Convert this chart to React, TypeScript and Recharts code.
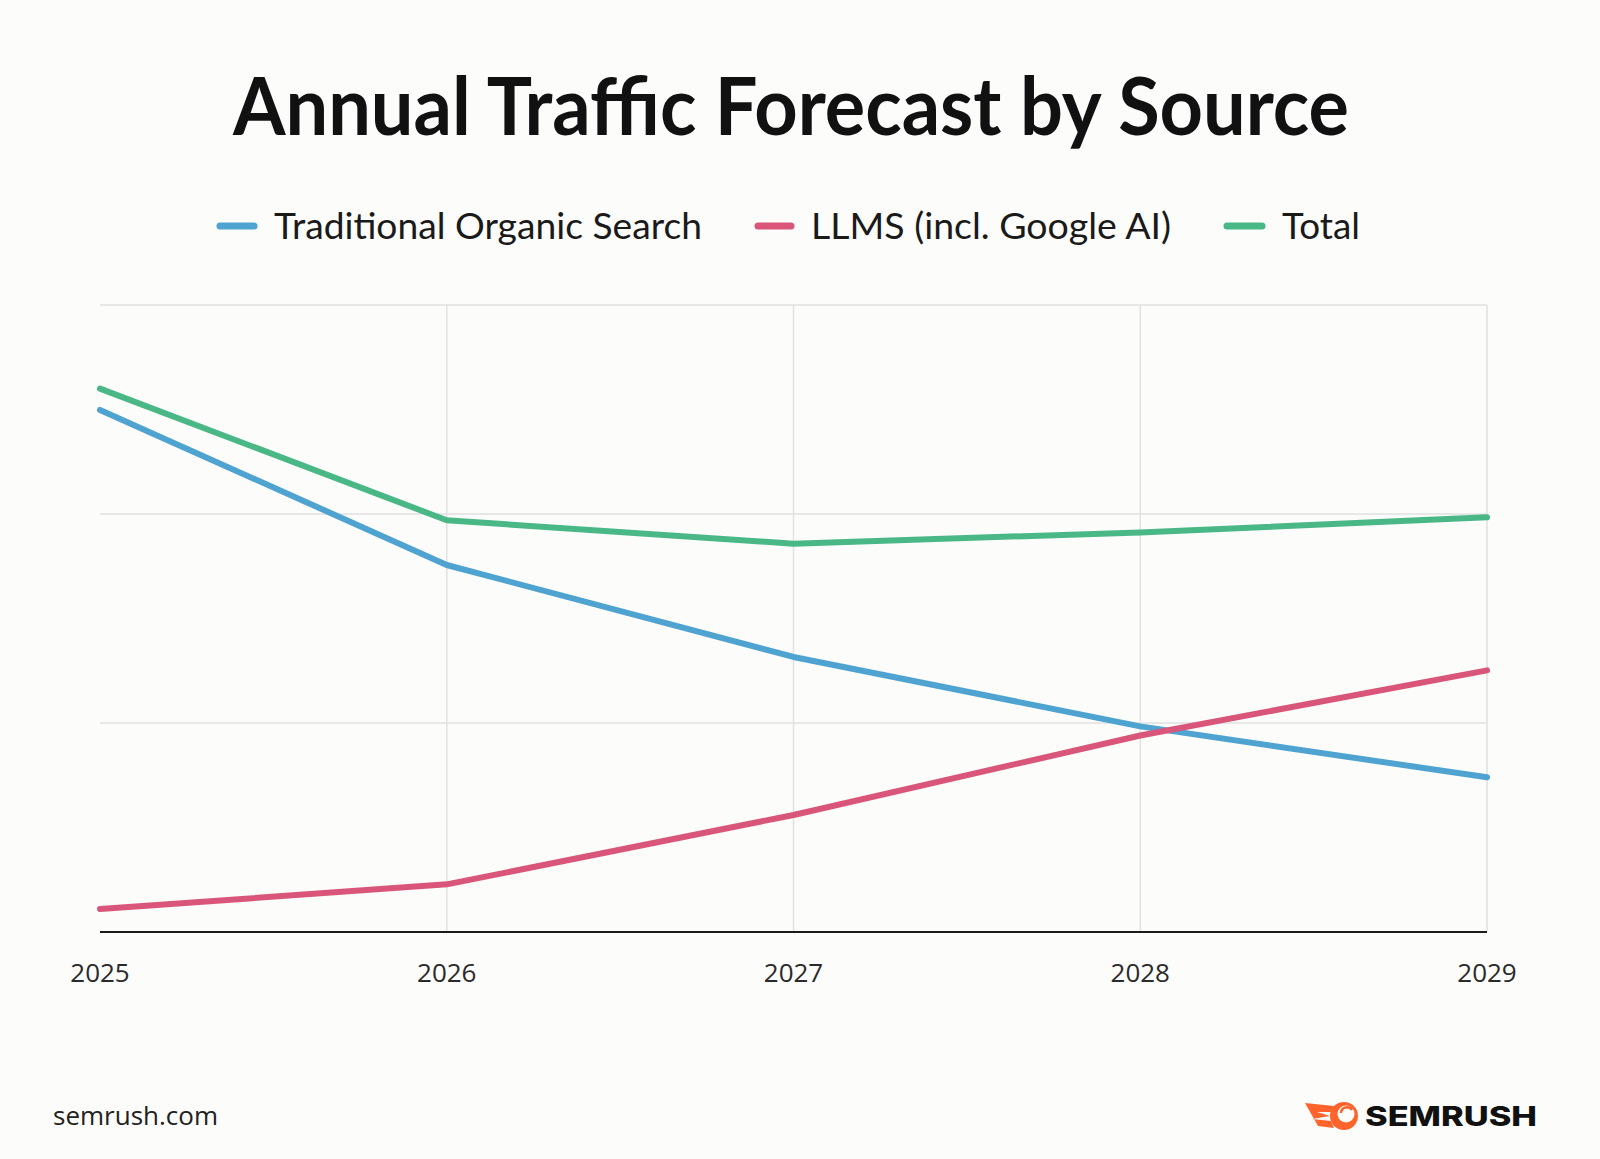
import React from 'react';
import { LineChart, Line, XAxis, YAxis, CartesianGrid, ReferenceLine } from 'recharts';

const years = ['2025', '2026', '2027', '2028', '2029'];
const traditionalOrganic = [124.9, 87.8, 65.8, 49.2, 37.0];
const llms = [5.5, 11.4, 28.0, 47.0, 62.6];
const total = [130.0, 98.5, 92.9, 95.6, 99.2];
const yTicks = [0, 50, 100, 150];

const seriesNames = ['Traditional Organic Search', 'LLMS (incl. Google AI)', 'Total'];
const colors = { trad: '#4ea3d1', llms: '#d9567a', total: '#4ab787' };

const data = years.map((y, i) => ({
  year: y,
  trad: traditionalOrganic[i],
  llms: llms[i],
  total: total[i],
}));

export default function App() {
  return (
    <div
      style={{
        position: 'absolute',
        left: 0,
        top: 0,
        width: 1600,
        height: 1159,
        background: '#fcfcfa',
        overflow: 'hidden',
      }}
    >
      <svg width={1600} height={1159} style={{ position: 'absolute', left: 0, top: 0 }}>
        <text
          x={791}
          y={135}
          textAnchor="middle"
          fontFamily="Lato"
          fontWeight={700}
          fontSize={80}
          fill="#111"
          textLength={1116}
          lengthAdjust="spacingAndGlyphs"
        >
          Annual Traffic Forecast by Source
        </text>
        {/* legend */}
        <line x1={220} y1={226} x2={254} y2={226} stroke={colors.trad} strokeWidth={7} strokeLinecap="round" />
        <text x={274} y={239} fontFamily="Lato" fontSize={37} fill="#1a1a1a" textLength={428} lengthAdjust="spacingAndGlyphs">{seriesNames[0]}</text>
        <line x1={758} y1={226} x2={791} y2={226} stroke={colors.llms} strokeWidth={7} strokeLinecap="round" />
        <text x={811} y={239} fontFamily="Lato" fontSize={37} fill="#1a1a1a" textLength={360} lengthAdjust="spacingAndGlyphs">{seriesNames[1]}</text>
        <line x1={1227} y1={226} x2={1262} y2={226} stroke={colors.total} strokeWidth={7} strokeLinecap="round" />
        <text x={1282} y={239} fontFamily="Lato" fontSize={37} fill="#1a1a1a" textLength={78} lengthAdjust="spacingAndGlyphs">{seriesNames[2]}</text>
        {/* footer */}
        <text x={53} y={1125} fontFamily="Open Sans" fontSize={26} fill="#222">semrush.com</text>
        <g>
          <path
            d="M1305 1103 L1334 1106 L1331 1112 L1317 1112 L1330 1116 L1312 1119 L1331 1121 L1334 1128 L1318 1126 Z"
            fill="#ff642d"
          />
          <circle cx={1344} cy={1116} r={14} fill="#ff642d" />
          <circle cx={1346} cy={1114} r={8.5} fill="#fcfcfa" />
          <path d="M1341 1113 A6 6 0 0 1 1352 1110" stroke="#ff642d" strokeWidth={2.5} fill="none" />
        </g>
        <text
          x={1365}
          y={1126}
          fontFamily="Inter"
          fontWeight={800}
          fontSize={27}
          fill="#111"
          textLength={172}
          lengthAdjust="spacingAndGlyphs"
        >
          SEMRUSH
        </text>
      </svg>
      <div style={{ position: 'absolute', left: 0, top: 0 }}>
        <LineChart
          width={1600}
          height={1159}
          data={data}
          margin={{ top: 305, right: 113, bottom: 167, left: 100 }}
        >
          <CartesianGrid stroke="#e1e1e1" strokeWidth={1.5} horizontal vertical={false} />
          {years.slice(1).map((y) => (
            <ReferenceLine key={y} x={y} stroke="#e1e1e1" strokeWidth={1.5} />
          ))}
          <XAxis
            dataKey="year"
            height={60}
            tickLine={false}
            axisLine={{ stroke: '#1c1c1c', strokeWidth: 2 }}
            tick={{ fontSize: 26, fill: '#2a2a2a', fontFamily: 'Open Sans' }}
            tickMargin={26}
            interval={0}
          />
          <YAxis hide domain={[0, 150]} ticks={yTicks} width={0} />
          <Line
            type="linear"
            dataKey="trad"
            name={seriesNames[0]}
            stroke={colors.trad}
            strokeWidth={6}
            strokeLinecap="round"
            strokeLinejoin="round"
            dot={false}
            activeDot={false}
            isAnimationActive={false}
          />
          <Line
            type="linear"
            dataKey="total"
            name={seriesNames[2]}
            stroke={colors.total}
            strokeWidth={6}
            strokeLinecap="round"
            strokeLinejoin="round"
            dot={false}
            activeDot={false}
            isAnimationActive={false}
          />
          <Line
            type="linear"
            dataKey="llms"
            name={seriesNames[1]}
            stroke={colors.llms}
            strokeWidth={6}
            strokeLinecap="round"
            strokeLinejoin="round"
            dot={false}
            activeDot={false}
            isAnimationActive={false}
          />
        </LineChart>
      </div>
    </div>
  );
}
